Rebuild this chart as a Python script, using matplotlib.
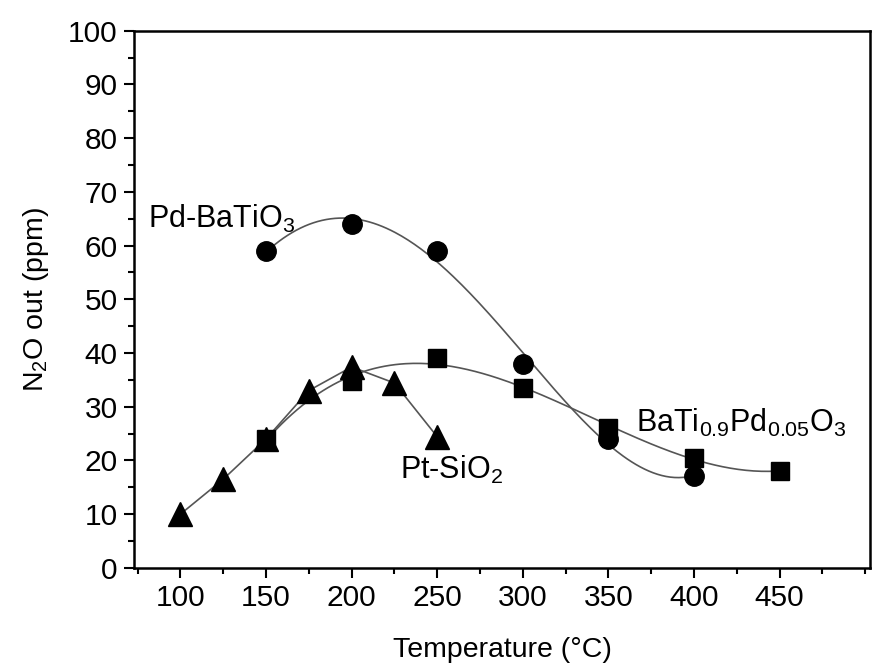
import numpy as np
import matplotlib.pyplot as plt
from matplotlib.ticker import MultipleLocator

plt.rcParams['font.family'] = 'Liberation Sans'
plt.rcParams['mathtext.fontset'] = 'custom'
plt.rcParams['mathtext.rm'] = 'Liberation Sans'
plt.rcParams['mathtext.it'] = 'Liberation Sans'

# Pd-BaTiO3 (circles)
t_pd = [150, 200, 250, 300, 350, 400]
n2o_pd = [59, 64, 59, 38, 24, 17]

# BaTi0.9Pd0.05O3 (squares)
t_bat = [150, 200, 250, 300, 350, 400, 450]
n2o_bat = [24, 34.7, 39, 33.5, 26, 20.5, 18]

# Pt-SiO2 (triangles)
t_pt = [100, 125, 150, 175, 200, 225, 250]
n2o_pt = [10, 16.5, 24, 33, 37.4, 34.4, 24.4]

x_ticks = [100, 150, 200, 250, 300, 350, 400, 450]

fig = plt.figure(figsize=(8.72, 6.68), dpi=100)
ax = fig.add_axes([0.154, 0.150, 0.844, 0.804])

line_col = '#555555'

# smooth fitted curves for the two perovskite samples
xs = np.linspace(150, 400, 200)
ax.plot(xs, np.polyval(np.polyfit(t_pd, n2o_pd, 4), xs), color=line_col, lw=1.2, zorder=1)
xs = np.linspace(150, 450, 200)
ax.plot(xs, np.polyval(np.polyfit(t_bat, n2o_bat, 3), xs), color=line_col, lw=1.2, zorder=1)
ax.plot(t_pt, n2o_pt, color=line_col, lw=1.2, zorder=1)

ax.plot(t_pd, n2o_pd, 'o', color='black', ms=14, ls='none', zorder=3)
ax.plot(t_bat, n2o_bat, 's', color='black', ms=12.5, ls='none', zorder=3)
ax.plot(t_pt, n2o_pt, '^', color='black', ms=17, ls='none', zorder=3)

ax.text(81, 65, r'Pd-BaTiO$_3$', fontsize=22, va='center')
ax.text(228, 18.2, r'Pt-SiO$_2$', fontsize=22, va='center')
ax.text(366, 27, r'BaTi$_{0.9}$Pd$_{0.05}$O$_3$', fontsize=22, va='center', clip_on=False)

ax.set_xlim(73, 503)
ax.set_ylim(0, 100)
ax.set_xticks(x_ticks)
ax.xaxis.set_minor_locator(MultipleLocator(25))
ax.yaxis.set_major_locator(MultipleLocator(10))
ax.yaxis.set_minor_locator(MultipleLocator(5))
ax.tick_params(which='major', direction='out', length=7, width=1.5, labelsize=21.5, pad=5)
ax.tick_params(which='minor', direction='out', length=4, width=1.5)
for s in ax.spines.values():
    s.set_linewidth(1.8)

ax.set_xlabel('Temperature (°C)', fontsize=20.5, labelpad=18)
ax.set_ylabel(r'N$_2$O out (ppm)', fontsize=20.5, labelpad=12)

fig.savefig('out.png', dpi=100)
